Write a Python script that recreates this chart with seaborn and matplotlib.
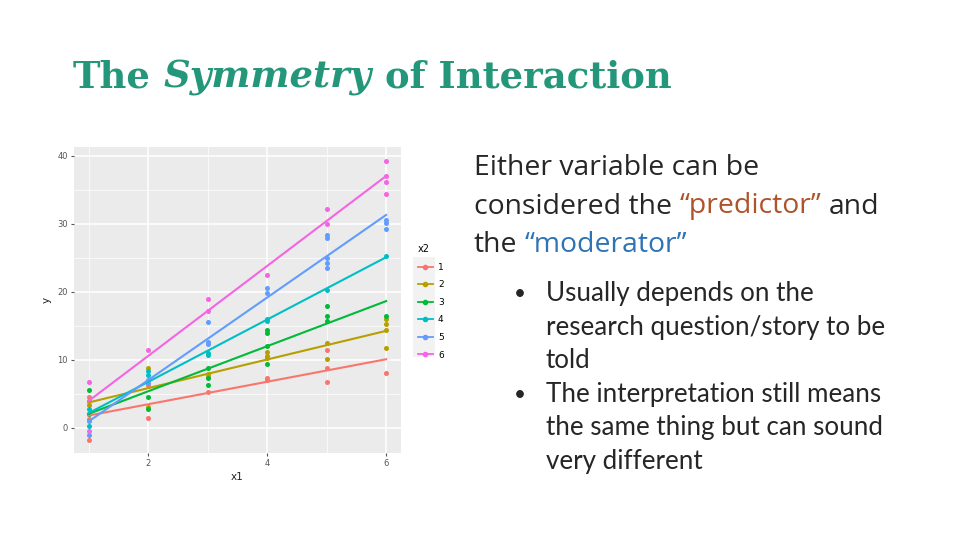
import matplotlib
matplotlib.use("Agg")
import matplotlib.pyplot as plt
import seaborn as sns
from matplotlib.lines import Line2D
from matplotlib.patches import Rectangle

# ---------------- data ----------------
x2_levels = ["1", "2", "3", "4", "5", "6"]
palette = ["#F8766D", "#B79F00", "#00BA38", "#00BFC4", "#619CFF", "#F564E3"]

x1_g1 = [1, 1, 1, 2, 2, 3, 4, 4, 5, 5, 5, 6]
y_g1 = [4.6, 1.3, -1.8, 6.3, 1.4, 5.2, 7.3, 7.0, 11.5, 8.8, 6.8, 8.0]
x1_g2 = [1, 1, 2, 2, 3, 3, 4, 4, 4, 5, 5, 6, 6, 6, 6]
y_g2 = [3.9, 3.3, 8.8, 3.1, 7.9, 7.5, 11.2, 10.5, 10.2, 12.5, 10.1, 16.0, 15.3, 14.4, 11.8]
x1_g3 = [1, 1, 2, 2, 3, 3, 3, 4, 4, 4, 4, 5, 5, 5, 6]
y_g3 = [5.5, 2.0, 4.5, 2.8, 8.8, 7.3, 6.3, 14.4, 13.9, 12.1, 9.4, 17.9, 16.5, 15.7, 16.4]
x1_g4 = [1, 1, 2, 2, 3, 3, 4, 4, 5, 6]
y_g4 = [2.7, 0.2, 8.3, 7.8, 11.0, 10.7, 16.0, 15.7, 20.3, 25.2]
x1_g5 = [1, 1, 2, 2, 3, 3, 3, 4, 4, 5, 5, 5, 5, 5, 6, 6, 6]
y_g5 = [-1.0, 1.0, 7.0, 6.6, 15.6, 12.6, 12.4, 20.5, 19.8, 28.4, 27.9, 25.0, 24.2, 23.5, 30.6, 30.1, 29.3]
x1_g6 = [1, 1, 1, 2, 3, 3, 4, 5, 5, 6, 6, 6, 6]
y_g6 = [6.7, 4.0, -0.5, 11.5, 19.0, 17.2, 22.5, 32.2, 30.0, 39.3, 37.0, 36.2, 34.4]

x_ticks = [2, 4, 6]
y_ticks = [0, 10, 20, 30, 40]

title_parts = ["The", "Symmetry", "of Interaction"]
intro_lines = [
    [("Either variable can be", "base")],
    [("considered the", "base"), ("\u201cpredictor\u201d", "pred"), ("and", "base")],
    [("the", "base"), ("\u201cmoderator\u201d", "mod")],
]
bullet_lines = [
    (True, "Usually depends on the"),
    (False, "research question/story to be"),
    (False, "told"),
    (True, "The interpretation still means"),
    (False, "the same thing but can sound"),
    (False, "very different"),
]

# ---------------- figure ----------------
W, H = 960, 540
fig = plt.figure(figsize=(9.6, 5.4), dpi=100)
fig.patch.set_facecolor("white")
renderer = fig.canvas.get_renderer()


def fx(x):
    return x / W


def fy(y):
    return 1 - y / H


def measure(s, size, **props):
    t = fig.text(0, 0, s, fontsize=size, **props)
    w = t.get_window_extent(renderer).width
    t.remove()
    return w


def space_w(size, **props):
    return measure("a a", size, **props) - measure("aa", size, **props)


def draw_line(x, y, segs, size, styles, base):
    cur = x
    for i, (s, key) in enumerate(segs):
        props = styles[key]
        t = fig.text(fx(cur), fy(y), s, fontsize=size, va="baseline", ha="left", **props)
        cur += t.get_window_extent(renderer).width
        if i < len(segs) - 1:
            cur += space_w(size, **styles[base])
    return cur


def line_width(segs, size, styles, base):
    total = 0
    for i, (s, key) in enumerate(segs):
        total += measure(s, size, **styles[key])
        if i < len(segs) - 1:
            total += space_w(size, **styles[base])
    return total


# ---------------- title ----------------
title_color = "#24977A"
tstyles = {
    "r": dict(family="DejaVu Serif", weight="bold", color=title_color),
    "i": dict(family="DejaVu Serif", weight="bold", style="italic", color=title_color),
}
tsegs = [(title_parts[0], "r"), (title_parts[1], "i"), (title_parts[2], "r")]
tsize = 24
tsize = tsize * (674 - 73) / line_width(tsegs, tsize, tstyles, "r")
draw_line(73, 87, tsegs, tsize, tstyles, "r")

# ---------------- intro text ----------------
body_color = "#262626"
istyles = {
    "base": dict(family="Open Sans", color=body_color),
    "pred": dict(family="Open Sans", color="#B0522A"),
    "mod": dict(family="Open Sans", color="#2E74B5"),
}
isize = 18
isize = isize * (878 - 474) / line_width(intro_lines[1], isize, istyles, "base")
for i, segs in enumerate(intro_lines):
    draw_line(474, 175 + 38.5 * i, segs, isize, istyles, "base")

# ---------------- bullets ----------------
bstyles = {"base": dict(family="Lato", color=body_color)}
bsize = 17
bsize = bsize * (884 - 546) / measure(bullet_lines[1][1], bsize, **bstyles["base"])
for i, (has_bullet, s) in enumerate(bullet_lines):
    yb = 301 + 33.6 * i
    if has_bullet:
        fig.text(fx(514), fy(yb - 1), "\u2022", fontsize=bsize * 0.8, va="baseline", ha="left",
                 **bstyles["base"])
    fig.text(fx(546), fy(yb), s, fontsize=bsize, va="baseline", ha="left", **bstyles["base"])

# ---------------- plot ----------------
ax = fig.add_axes([fx(74), fy(453), (401 - 74) / W, (453 - 147) / H])
ax.set_facecolor("#EBEBEB")
for sp in ax.spines.values():
    sp.set_visible(False)

groups = [(x1_g1, y_g1), (x1_g2, y_g2), (x1_g3, y_g3),
          (x1_g4, y_g4), (x1_g5, y_g5), (x1_g6, y_g6)]
for (gx, gy), col in zip(groups, palette):
    sns.regplot(x=gx, y=gy, ax=ax, ci=None, color=col, truncate=True,
                scatter_kws=dict(s=13, linewidths=0, alpha=1, zorder=3),
                line_kws=dict(lw=1.5, zorder=4))

ax.set_xlim(0.756, 6.25)
ax.set_ylim(-3.7, 41.3)
ax.set_xticks(x_ticks)
ax.set_yticks(y_ticks)
ax.set_xticklabels([str(v) for v in x_ticks])
ax.set_yticklabels([str(v) for v in y_ticks])
ax.set_xticks([1, 3, 5], minor=True)
ax.set_yticks([5, 15, 25, 35], minor=True)
ax.grid(which="major", color="white", lw=1.1)
ax.grid(which="minor", color="white", lw=0.5)
ax.set_axisbelow(True)
ax.tick_params(which="major", labelsize=6, colors="#555555", length=2.5, width=0.8, pad=2)
ax.tick_params(which="minor", length=0)
ax.set_xlabel("x1", fontsize=7.5, color="#222222", labelpad=3)
ax.set_ylabel("y", fontsize=7.5, color="#222222", labelpad=4)

# legend key background (ggplot style)
fig.patches.append(Rectangle((fx(413), fy(357)), (435 - 413) / W, (357 - 257) / H,
                             transform=fig.transFigure, facecolor="#F2F2F2",
                             edgecolor="none", zorder=0))
handles = [Line2D([0], [0], color=c, lw=1.3, marker="o", markersize=3) for c in palette]
leg = fig.legend(handles, x2_levels, title="x2", loc="upper left",
                 bbox_to_anchor=(fx(410), fy(236)), frameon=False,
                 fontsize=6.5, title_fontsize=7, handlelength=1.6,
                 labelspacing=0.95, handletextpad=0.6, alignment="left")

fig.savefig("out.png", dpi=100)
